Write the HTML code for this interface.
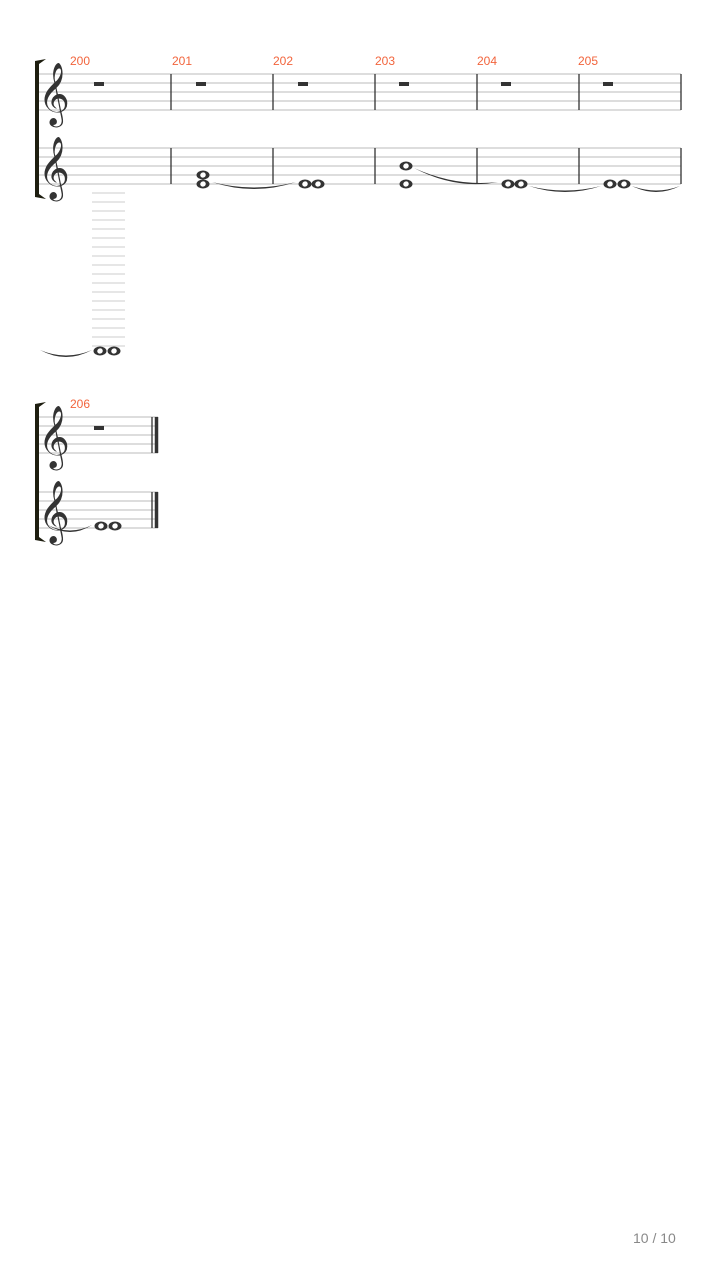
<!DOCTYPE html>
<html><head><meta charset="utf-8"><style>
body{margin:0;background:#fff;width:720px;height:1280px;overflow:hidden}
svg{display:block}
.num{font-family:"Liberation Sans",sans-serif;font-size:12px;fill:#f2643c}
.clef{font-family:"DejaVu Sans",serif;font-size:54px;fill:#333}
</style></head><body>
<svg id="s" width="720" height="1280" viewBox="0 0 720 1280" xmlns="http://www.w3.org/2000/svg">
<text class="num" x="70" y="65">200</text>
<text class="num" x="172" y="65">201</text>
<text class="num" x="273" y="65">202</text>
<text class="num" x="375" y="65">203</text>
<text class="num" x="477" y="65">204</text>
<text class="num" x="578" y="65">205</text>
<text class="num" x="70" y="408">206</text>
<text x="633" y="1243" style="font-family:'Liberation Sans',sans-serif;font-size:14px;fill:#888">10 / 10</text>
<g id="g"></g>
</svg>
<script>
var g=document.getElementById('g'),h='';
function L(x1,y1,x2,y2,c,w){h+='<line x1="'+x1+'" y1="'+y1+'" x2="'+x2+'" y2="'+y2+'" stroke="'+c+'" stroke-width="'+w+'"/>';}
function staff(y,x1,x2){for(var i=0;i<5;i++)L(x1,y+i*9,x2,y+i*9,'#bbb',1);}
function clef(x,y){h+='<text class="clef" x="'+(x)+'" y="'+(y+42)+'">𝄞</text>';}
function rest(x,y){h+='<rect x="'+x+'" y="'+y+'" width="10" height="4" fill="#333"/>';}
function note(x,y){h+='<ellipse cx="'+x+'" cy="'+y+'" rx="6.5" ry="4.5" fill="#333"/><ellipse cx="'+x+'" cy="'+y+'" rx="2.8" ry="2.6" fill="#fff" transform="rotate(-30 '+x+' '+y+')"/>';}
function tie(x1,x2,y,d,y2){if(y2===undefined)y2=y;h+='<path d="M'+x1+' '+y+' Q'+((x1+x2)/2)+' '+(Math.max(y,y2)+d)+' '+x2+' '+y2+' Q'+((x1+x2)/2)+' '+(Math.max(y,y2)+d-3)+' '+x1+' '+y+'Z" fill="#333"/>';}
function brk(y1,y2){h+='<path d="M35 '+y1+' L46 '+(y1-2)+' L39 '+(y1+3)+' L39 '+(y2-3)+' L46 '+(y2+2)+' L35 '+y2+'Z" fill="#1e1e10"/>';}
staff(74,38,681);staff(148,38,681);
[171,273,375,477,579,681].forEach(function(x){L(x,74,x,110,'#333',1.3);L(x,148,x,184,'#333',1.3);});
L(38,74,38,184,'#999',1);
brk(61,197);
clef(38,70);clef(38,144);
[94,196,298,399,501,603].forEach(function(x){rest(x,82);});
for(var y=193;y<=346;y+=9)L(92,y,125,y,'#ccc',1);
note(203,175);note(203,184);
tie(212,296,182,14);
note(305,184);note(318,184);
note(406,166);note(406,184);
tie(414,498,168,8,182);
note(508,184);note(521,184);
tie(529,601,186,12);
note(610,184);note(624,184);
tie(632,680,186,12);
tie(40,92,350,14);
note(100,351);note(114,351);
staff(417,38,158);staff(492,38,158);
L(38,417,38,528,'#999',1);
brk(404,540);
clef(38,413);clef(38,488);
rest(94,426);
L(152,417,152,453,'#333',1.3);L(156.5,417,156.5,453,'#333',3.5);
L(152,492,152,528,'#333',1.3);L(156.5,492,156.5,528,'#333',3.5);
tie(48,92,525,14);
note(101,526);note(115,526);
g.innerHTML=h;
</script>
</body></html>
